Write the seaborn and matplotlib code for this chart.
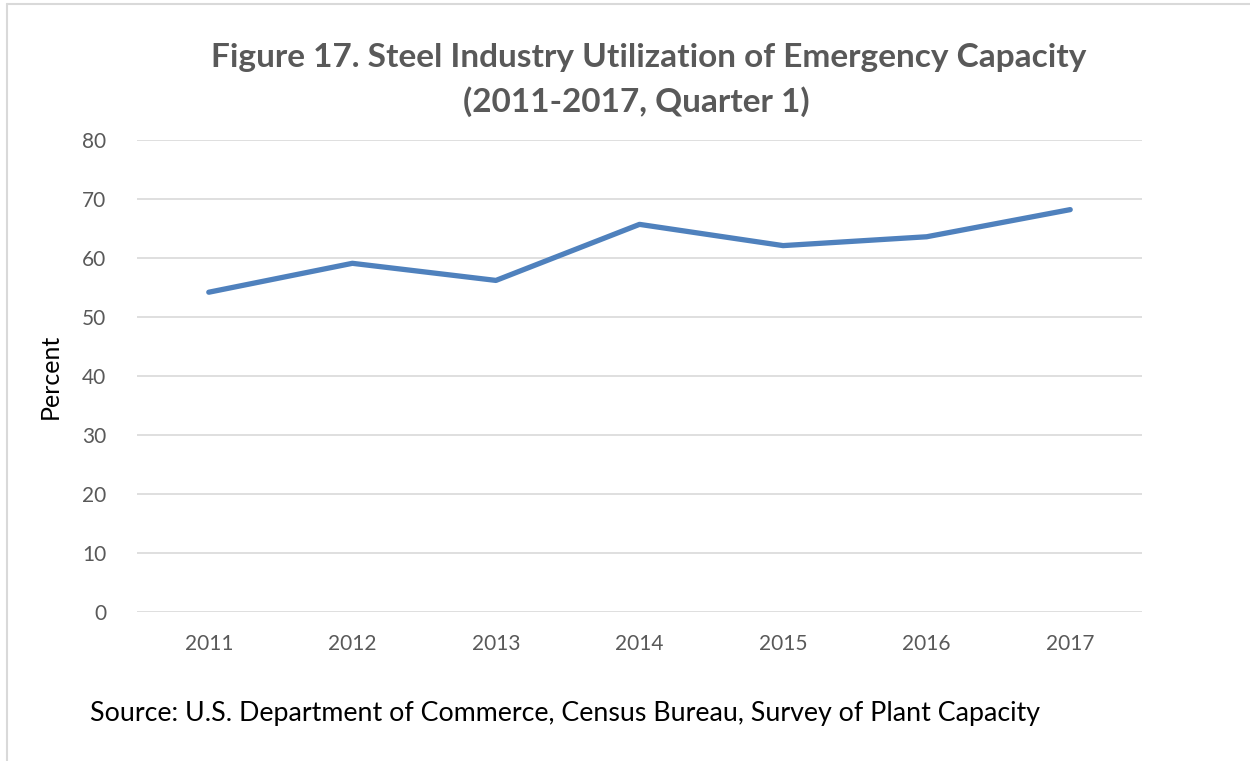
import matplotlib
matplotlib.use("Agg")
import matplotlib.pyplot as plt
import seaborn as sns
import pandas as pd
from matplotlib.lines import Line2D

years = ["2011", "2012", "2013", "2014", "2015", "2016", "2017"]
percent = [54.2, 59.1, 56.2, 65.7, 62.1, 63.6, 68.2]
y_ticks = [0, 10, 20, 30, 40, 50, 60, 70, 80]

sns.set_theme(style="white")
plt.rcParams['font.family'] = ['Lato', 'DejaVu Sans']

df = pd.DataFrame({"Year": years, "Percent": percent})

fig = plt.figure(figsize=(12.5, 7.61), dpi=100)
ax = fig.add_axes([137/1250, 1 - 612/761, (1142-137)/1250, (612-140)/761])

sns.lineplot(data=df, x="Year", y="Percent", ax=ax, color="#4F81BD",
             linewidth=3.8, solid_capstyle="round", solid_joinstyle="round", sort=False)

ax.set_ylim(0, 80)
ax.set_xlim(-0.5, len(years) - 0.5)
ax.set_yticks(y_ticks)
ax.yaxis.grid(True, color="#D9D9D9", linewidth=1.2)
ax.set_axisbelow(True)
for s in ax.spines.values():
    s.set_visible(False)
ax.tick_params(axis="both", length=0, labelsize=15, labelcolor="#595959")
ax.tick_params(axis="y", pad=22)
ax.tick_params(axis="x", pad=16)
ax.set_xlabel("")
ax.set_ylabel("Percent", fontsize=18, color="black", labelpad=15)

fig.text(0.519, 1 - 58/761, "Figure 17. Steel Industry Utilization of Emergency Capacity",
         ha="center", va="center", fontsize=24, fontweight="bold", color="#595959")
fig.text(0.509, 1 - 102/761, "(2011-2017, Quarter 1)",
         ha="center", va="center", fontsize=24, fontweight="bold", color="#595959")
fig.text(90/1250, 1 - 713/761, "Source: U.S. Department of Commerce, Census Bureau, Survey of Plant Capacity",
         ha="left", va="center", fontsize=19.3, color="black")

# light frame edges (left and top)
fig.add_artist(Line2D([7/1250, 7/1250], [0, 1 - 4/761], transform=fig.transFigure,
                      color="#D9D9D9", linewidth=1.5))
fig.add_artist(Line2D([7/1250, 1], [1 - 4/761, 1 - 4/761], transform=fig.transFigure,
                      color="#D9D9D9", linewidth=1.5))

fig.savefig("out.png", dpi=100)
